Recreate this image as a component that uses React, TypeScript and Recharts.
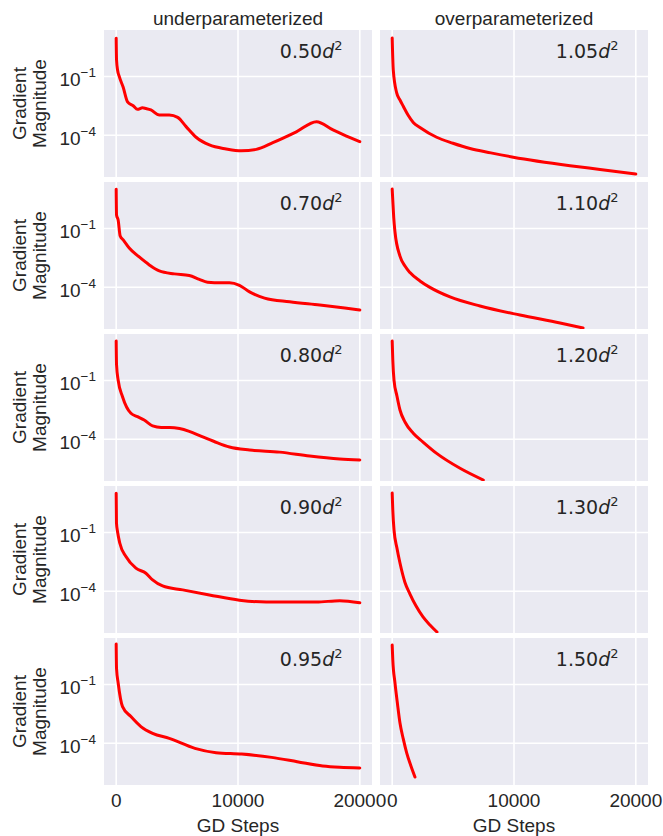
import React from 'react';
import { LineChart, Line, XAxis, YAxis, CartesianGrid, ReferenceLine } from 'recharts';

// ---------- data ----------
const X_TICKS = [0, 10000, 20000];
const X_TICK_LABELS = ['0', '10000', '20000'];
const Y_TICKS = [1e-1, 1e-4];
const Y_TICK_EXPONENTS = ['\u22121', '\u22124'];
const X_DOMAIN: [number, number] = [-1000, 21000];
const Y_DOMAIN: [number, number] = [7.4e-7, 23.4];

const COLUMN_TITLES = ['underparameterized', 'overparameterized'];
const LEFT_LABELS = ['0.50', '0.70', '0.80', '0.90', '0.95'];
const RIGHT_LABELS = ['1.05', '1.10', '1.20', '1.30', '1.50'];

// underparameterized
const steps050 = [0, 30, 120, 250, 576, 930, 1400, 1750, 2160, 2440, 2850, 3540, 4360, 5050, 5740, 6560, 7650, 9030, 10260, 11500, 12860, 14790, 16440, 17800, 18900, 20000];
const grad050 = [8.9, 0.69, 0.2, 0.1, 0.028, 5.1e-3, 3.2e-3, 2.1e-3, 2.5e-3, 2.3e-3, 1.95e-3, 1.07e-3, 1.07e-3, 8.1e-4, 2.75e-4, 7.9e-5, 3.2e-5, 2.0e-5, 1.6e-5, 1.9e-5, 4.2e-5, 1.5e-4, 4.9e-4, 1.86e-4, 9.1e-5, 4.7e-5];

const steps070 = [0, 30, 160, 330, 580, 1070, 1890, 2720, 3540, 4770, 6000, 6830, 7500, 8070, 9300, 10120, 10950, 12180, 14240, 16710, 18770, 20000];
const grad070 = [10, 0.49, 0.27, 0.041, 0.026, 0.01, 3.5e-3, 1.38e-3, 6.8e-4, 4.8e-4, 4.0e-4, 2.5e-4, 1.78e-4, 1.7e-4, 1.7e-4, 1.26e-4, 5.8e-5, 2.8e-5, 1.8e-5, 1.23e-5, 8.7e-6, 6.9e-6];

const steps080 = [0, 30, 160, 520, 1210, 1750, 2300, 2990, 3700, 4400, 5200, 6000, 7000, 8000, 9300, 10950, 13420, 15880, 18350, 20000];
const grad080 = [10.2, 0.63, 0.105, 0.0148, 2.1e-3, 1.41e-3, 9.5e-4, 4.8e-4, 4.0e-4, 4.0e-4, 3.5e-4, 2.5e-4, 1.4e-4, 7.9e-5, 4.0e-5, 2.8e-5, 2.2e-5, 1.38e-5, 9.8e-6, 8.7e-6];

const steps090 = [0, 25, 110, 300, 800, 1620, 2440, 2990, 3810, 5460, 7650, 10120, 12320, 16430, 18350, 20000];
const grad090 = [10, 0.3, 0.112, 0.028, 5.9e-3, 1.5e-3, 8.3e-4, 3.8e-4, 1.86e-4, 1.17e-4, 6.5e-5, 3.5e-5, 2.8e-5, 2.8e-5, 3.3e-5, 2.6e-5];

const steps095 = [0, 30, 165, 520, 1210, 2030, 2990, 4360, 6460, 8200, 10300, 12760, 14860, 16950, 18350, 20000];
const grad095 = [11.5, 0.63, 0.115, 7.4e-3, 2.3e-3, 7.1e-4, 3.2e-4, 1.78e-4, 5.5e-5, 3.3e-5, 2.8e-5, 1.9e-5, 1.15e-5, 6.9e-6, 5.9e-6, 5.5e-6];

// overparameterized
const steps105 = [0, 90, 370, 640, 910, 1300, 1730, 2280, 3650, 4990, 6390, 8100, 9940, 14600, 17060, 20000];
const grad105 = [9.1, 0.21, 0.0145, 6.3e-3, 3.0e-3, 1.07e-3, 4.5e-4, 2.5e-4, 7.9e-5, 3.9e-5, 2.1e-5, 1.26e-5, 7.6e-6, 2.8e-6, 1.8e-6, 1.05e-6];

const steps110 = [0, 70, 130, 230, 640, 1050, 1460, 2280, 3100, 4750, 7210, 10490, 13780, 15670];
const grad110 = [10.2, 1.6, 0.34, 0.066, 3.9e-3, 1.2e-3, 5.6e-4, 2.1e-4, 9.8e-5, 3.2e-5, 1.1e-5, 3.8e-6, 1.5e-6, 8.3e-7];

const steps120 = [0, 50, 150, 390, 640, 1050, 1730, 2530, 3650, 5570, 7480];
const grad120 = [10.2, 1.1, 0.105, 0.0162, 3.1e-3, 7.6e-4, 2.0e-4, 7.2e-5, 1.9e-5, 3.3e-6, 8.3e-7];

const steps130 = [0, 50, 150, 390, 640, 1050, 1460, 1950, 2530, 3100, 3680];
const grad130 = [10.2, 1.4, 0.135, 0.016, 2.75e-3, 2.8e-4, 7.2e-5, 1.8e-5, 4.9e-6, 1.9e-6, 8.3e-7];

const steps150 = [0, 50, 230, 435, 640, 910, 1190, 1540, 1870];
const grad150 = [10.2, 1.8, 0.12, 0.0102, 1.07e-3, 1.66e-4, 3.2e-5, 6.9e-6, 1.9e-6];

const LEFT_SERIES = [
  [steps050, grad050],
  [steps070, grad070],
  [steps080, grad080],
  [steps090, grad090],
  [steps095, grad095],
];
const RIGHT_SERIES = [
  [steps105, grad105],
  [steps110, grad110],
  [steps120, grad120],
  [steps130, grad130],
  [steps150, grad150],
];

// ---------- layout / style ----------
const ROW_TOPS = [30, 182, 334, 486, 638];
const PLOT_H = 147;
const PLOT_W = 268;
const LEFT_X = 104;
const RIGHT_X = 380;
const TEXT = '#262626';
const SANS = '"Liberation Sans", Arial, sans-serif';
const DEJAVU = '"DejaVu Sans", sans-serif';
const BG = '#EAEAF2';

const LogTick = (props: any) => {
  const { x, y, payload } = props;
  const idx = Y_TICKS.findIndex((t) => Math.abs(t - payload.value) / t < 1e-6);
  return (
    <text x={x - 8} y={y + 10} textAnchor="end" fontSize={19} fill={TEXT} fontFamily={SANS}>
      10
      <tspan dy={-9} fontSize={13.5}>{Y_TICK_EXPONENTS[idx]}</tspan>
    </text>
  );
};

const StepTick = (props: any) => {
  const { x, y, payload } = props;
  const idx = X_TICKS.indexOf(payload.value);
  return (
    <text x={x} y={y + 22} textAnchor="middle" fontSize={19} fill={TEXT} fontFamily={SANS}>
      {X_TICK_LABELS[idx]}
    </text>
  );
};

function Panel({ steps, values, left, top, showY, showX }: any) {
  const data = steps.map((s: number, i: number) => ({ step: s, g: values[i] }));
  const yW = showY ? LEFT_X : 0;
  const xH = showX ? 40 : 0;
  return (
    <div style={{ position: 'absolute', left: showY ? 0 : left, top }}>
      <LineChart width={yW + PLOT_W} height={PLOT_H + xH} data={data} margin={{ top: 0, right: 0, bottom: 0, left: 0 }}>
        <CartesianGrid horizontal={false} vertical={false} fill={BG} stroke="none" />
        <XAxis
          dataKey="step"
          type="number"
          domain={X_DOMAIN}
          ticks={X_TICKS}
          allowDataOverflow
          hide={!showX}
          height={xH}
          axisLine={false}
          tickLine={false}
          tickSize={0}
          tickMargin={0}
          interval={0}
          tick={(p: any) => <StepTick {...p} />}
        />
        <YAxis
          type="number"
          scale="log"
          domain={Y_DOMAIN}
          ticks={Y_TICKS}
          allowDataOverflow
          hide={!showY}
          width={yW}
          axisLine={false}
          tickLine={false}
          tickSize={0}
          tickMargin={0}
          interval={0}
          tick={(p: any) => <LogTick {...p} />}
        />
        {X_TICKS.map((t) => (
          <ReferenceLine key={'x' + t} x={t} stroke="#ffffff" strokeWidth={1.6} />
        ))}
        {Y_TICKS.map((t) => (
          <ReferenceLine key={'y' + t} y={t} stroke="#ffffff" strokeWidth={1.6} />
        ))}
        <Line
          dataKey="g"
          type="monotoneX"
          stroke="#ff0000"
          strokeWidth={3}
          strokeLinejoin="round"
          strokeLinecap="round"
          dot={false}
          isAnimationActive={false}
        />
      </LineChart>
    </div>
  );
}

export default function App() {
  return (
    <div style={{ position: 'absolute', left: 0, top: 0, width: 663, height: 836, background: '#fff', overflow: 'hidden' }}>
      <style>{`.recharts-surface{overflow:visible}`}</style>
      {LEFT_SERIES.map(([s, v], i) => (
        <Panel key={'l' + i} steps={s} values={v} left={LEFT_X} top={ROW_TOPS[i]} showY showX={i === 4} />
      ))}
      {RIGHT_SERIES.map(([s, v], i) => (
        <Panel key={'r' + i} steps={s} values={v} left={RIGHT_X} top={ROW_TOPS[i]} showY={false} showX={i === 4} />
      ))}
      <svg width={663} height={836} style={{ position: 'absolute', left: 0, top: 0, pointerEvents: 'none' }}>
        <text x={LEFT_X + PLOT_W / 2} y={25} textAnchor="middle" fontSize={19} fill={TEXT} fontFamily={SANS}>
          {COLUMN_TITLES[0]}
        </text>
        <text x={RIGHT_X + PLOT_W / 2} y={25} textAnchor="middle" fontSize={19} fill={TEXT} fontFamily={SANS}>
          {COLUMN_TITLES[1]}
        </text>
        {ROW_TOPS.map((t, i) => {
          const cy = t + PLOT_H / 2;
          return (
            <g key={'yl' + i}>
              <text x={26} y={cy} transform={`rotate(-90 26 ${cy})`} textAnchor="middle" fontSize={19} fill={TEXT} fontFamily={SANS}>
                Gradient
              </text>
              <text x={46} y={cy} transform={`rotate(-90 46 ${cy})`} textAnchor="middle" fontSize={19} fill={TEXT} fontFamily={SANS}>
                Magnitude
              </text>
            </g>
          );
        })}
        {ROW_TOPS.map((t, i) => (
          <g key={'an' + i}>
            <text x={LEFT_X + 0.89 * PLOT_W} y={t + 28} textAnchor="end" fontSize={19} fill={TEXT} fontFamily={DEJAVU}>
              {LEFT_LABELS[i]}
              <tspan fontStyle="italic">d</tspan>
              <tspan dy={-8} fontSize={13}>2</tspan>
            </text>
            <text x={RIGHT_X + 0.89 * PLOT_W} y={t + 28} textAnchor="end" fontSize={19} fill={TEXT} fontFamily={DEJAVU}>
              {RIGHT_LABELS[i]}
              <tspan fontStyle="italic">d</tspan>
              <tspan dy={-8} fontSize={13}>2</tspan>
            </text>
          </g>
        ))}
        <text x={LEFT_X + PLOT_W / 2} y={832} textAnchor="middle" fontSize={19} fill={TEXT} fontFamily={SANS}>
          GD Steps
        </text>
        <text x={RIGHT_X + PLOT_W / 2} y={832} textAnchor="middle" fontSize={19} fill={TEXT} fontFamily={SANS}>
          GD Steps
        </text>
      </svg>
    </div>
  );
}
